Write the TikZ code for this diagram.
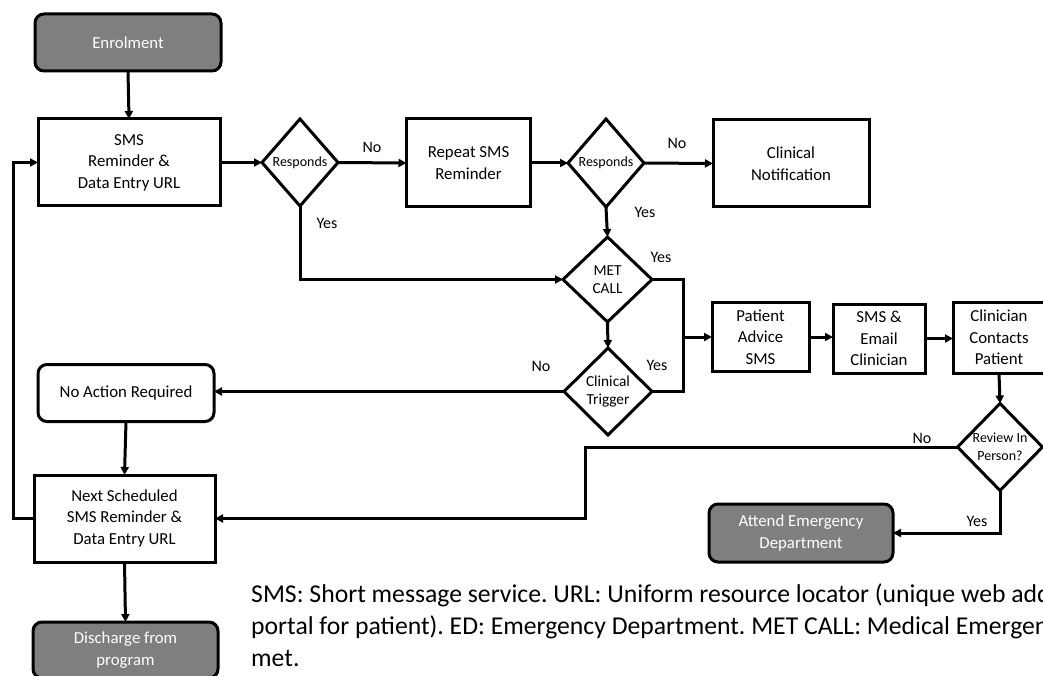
\documentclass[tikz,border=0pt]{standalone}
\usepackage{fontspec}
\setmainfont{Carlito}
\usetikzlibrary{shapes.geometric,arrows.meta}
\definecolor{termgray}{HTML}{7F7F7F}
\frenchspacing
\tikzset{
  boxtext/.style={font=\fontsize{16.8pt}{21.5pt}\selectfont},
  stepbox/.style={draw, line width=3pt, align=center, inner sep=2pt, outer sep=0pt, boxtext},
  termbox/.style={stepbox, rounded corners=9pt, fill=termgray, text=white},
  decision/.style={diamond, draw, line width=3pt, align=center, inner sep=0pt, outer sep=0pt, aspect=1},
  smalldec/.style={decision, font=\fontsize{14pt}{18pt}\selectfont},
  middec/.style={decision, font=\fontsize{15.3pt}{18.5pt}\selectfont},
  arr/.style={line width=3pt, -{Triangle[length=8pt,width=8pt]}},
  conn/.style={line width=3pt},
  lbl/.style={font=\fontsize{16pt}{19pt}\selectfont, inner sep=0pt},
  captext/.style={anchor=base west, inner sep=0pt, font=\fontsize{25.7pt}{32.5pt}\selectfont\frenchspacing},
}
\begin{document}
\begin{tikzpicture}[x=1pt,y=-1pt]
\useasboundingbox (0,0) rectangle (1043,676);
\clip (0,0) rectangle (1043,676);
% nodes
\node[termbox, minimum width=186pt, minimum height=57pt] (enrol) at (128,42.5) {Enrolment};
\node[stepbox, minimum width=182pt, minimum height=87pt] (sms) at (129,162.5) {SMS\\Reminder \&\\Data Entry URL};
\node[smalldec, minimum width=76pt, minimum height=87pt] (resp1) at (300,162.5) {Responds};
\node[stepbox, minimum width=124pt, minimum height=88pt] (repeat) at (468.5,163) {Repeat SMS\\Reminder};
\node[smalldec, minimum width=76pt, minimum height=88pt] (resp2) at (606,163) {Responds};
\node[stepbox, minimum width=156pt, minimum height=87pt] (notif) at (791,163.5) {Clinical\\Notification};
\node[middec, minimum width=89pt, minimum height=85pt] (met) at (607.5,279.5) {MET\\CALL};
\node[middec, minimum width=88pt, minimum height=87pt] (trig) at (608,391.5) {Clinical\\Trigger};
\node[stepbox, minimum width=97pt, minimum height=69pt] (adv) at (760.5,337) {Patient\\Advice\\SMS};
\node[stepbox, minimum width=92pt, minimum height=69pt] (email) at (879,338.5) {SMS \&\\Email\\Clinician};
\node[stepbox, minimum width=92pt, minimum height=71pt] (contact) at (999,337.5) {Clinician\\Contacts\\Patient};
\node[smalldec, minimum width=85pt, minimum height=87pt] (review) at (1000,447) {Review In\\Person?};
\node[termbox, minimum width=184pt, minimum height=58pt] (ed) at (801,533) {Attend Emergency\\Department};
\node[stepbox, rounded corners=9pt, minimum width=176pt, minimum height=57pt] (noact) at (126,393) {No Action Required};
\node[stepbox, minimum width=181pt, minimum height=87pt] (next) at (124.5,518.5) {Next Scheduled\\SMS Reminder \&\\Data Entry URL};
\node[termbox, minimum width=185pt, minimum height=56pt] (disc) at (125.5,650) {Discharge from\\program};
% helper coordinates
\coordinate (jx) at (683,337);
\coordinate (lc) at (13,340);
\coordinate (rc) at (585,480);
% connectors
\draw[arr] (enrol.south) -- (sms.north);
\draw[arr] (sms.east) -- (resp1.west);
\draw[arr] (resp1.east) -- (repeat.west);
\draw[arr] (repeat.east) -- (resp2.west);
\draw[arr] (resp2.east) -- (notif.west);
\draw[arr] (resp1.south) |- (met.west);
\draw[arr] (resp2.south) -- (met.north);
\draw[arr] (met.south) -- (trig.north);
\draw[conn] (met.east) -| (jx) |- (trig.east);
\draw[arr] (jx) -- (adv.west);
\draw[arr] (trig.west) -- (trig.west -| noact.east);
\draw[arr] (noact.south) -- (next.north);
\draw[arr] (next.west) -| (lc) |- (sms.west);
\draw[arr] (next.south) -- (disc.north);
\draw[arr] (adv.east) -- (adv.east -| email.west);
\draw[arr] (email.east) -- (email.east -| contact.west);
\draw[arr] (contact.south) -- (review.north);
\draw[arr] (review.west) -| (rc) |- (next.east);
\draw[arr] (review.south) |- (ed.east);
% labels
\node[lbl] (l1) at (372,147) {No};
\node[lbl] (l2) at (327,223) {Yes};
\node[lbl] (l3) at (677,143) {No};
\node[lbl] (l4) at (645,212) {Yes};
\node[lbl] (l5) at (661,257) {Yes};
\node[lbl] (l6) at (657,365) {Yes};
\node[lbl] (l7) at (541,366) {No};
\node[lbl] (l8) at (922,438) {No};
\node[lbl] (l9) at (977,521) {Yes};
% caption
\node[captext] (cap1) at (251,602) {SMS: Short message service. URL: Uniform resource locator (unique web address};
\node[captext] (cap2) at (251,634) {portal for patient). ED: Emergency Department. MET CALL: Medical Emergency};
\node[captext] (cap3) at (251,666) {met.};
\end{tikzpicture}
\end{document}
